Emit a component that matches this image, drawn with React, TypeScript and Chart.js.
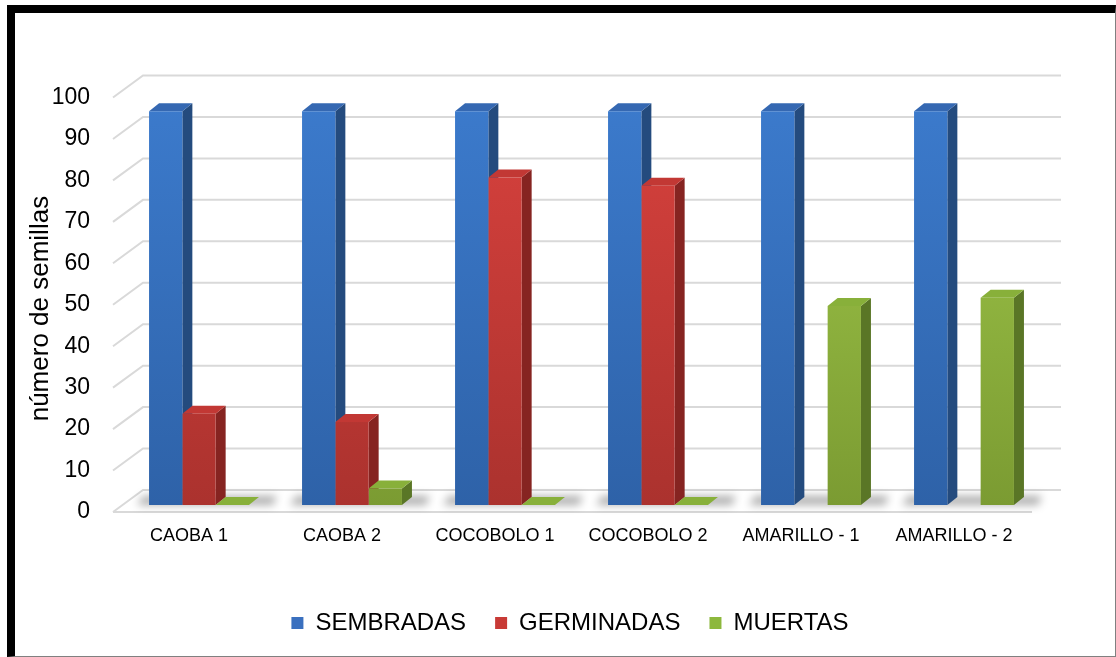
import React, { useEffect, useRef } from "react";
import { Chart, registerables } from "chart.js";

Chart.register(...registerables);

const categories = ["CAOBA 1", "CAOBA 2", "COCOBOLO 1", "COCOBOLO 2", "AMARILLO - 1", "AMARILLO - 2"];
const seriesNames = ["SEMBRADAS", "GERMINADAS", "MUERTAS"];
const sembradas: (number | null)[] = [95, 95, 95, 95, 95, 95];
const germinadas: (number | null)[] = [22, 20, 79, 77, null, null];
const muertas: (number | null)[] = [0, 4, 0, 0, 48, 50];
const yAxisTitle = "número de semillas   ";

const palette = [
  { front: ["#3c7bcd", "#2e62a8"], side: "#244b7e", top: "#3568b2", legend: "#3a70bf" },
  { front: ["#d9423e", "#ab322e"], side: "#862421", top: "#c23834", legend: "#c83a36" },
  { front: ["#a2ca4b", "#7b9b32"], side: "#5a7626", top: "#88b03a", legend: "#8db83d" },
];

const DX = 10;
const DY = -8;
const FONT = "'Liberation Sans', Arial, sans-serif";

const depthPlugin = {
  id: "depth3d",
  beforeDatasetsDraw(chart: any) {
    const { ctx, chartArea: a, scales } = chart;
    const ys = scales.y;
    ctx.save();
    // walls / gridlines
    ctx.strokeStyle = "#d9d9d9";
    ctx.lineWidth = 2;
    for (const t of ys.ticks) {
      const py = ys.getPixelForValue(t.value);
      ctx.beginPath();
      ctx.moveTo(a.left - 9.5, py + 7);
      ctx.lineTo(a.left + 20.5, py - 15);
      ctx.lineTo(a.right + 20.5, py - 15);
      ctx.stroke();
      if (t.value === 0) {
        ctx.beginPath();
        ctx.moveTo(a.left - 9.5, py + 7);
        ctx.lineTo(a.right - 8.5, py + 7);
        ctx.stroke();
      }
    }
    // floor shadows
    const m0 = chart.getDatasetMeta(0);
    const mL = chart.getDatasetMeta(chart.data.datasets.length - 1);
    m0.data.forEach((el: any, i: number) => {
      const p0 = el.getProps(["x", "base", "width"], true);
      const pL = mL.data[i].getProps(["x", "width"], true);
      const l = p0.x - p0.width / 2;
      const r = pL.x + pL.width / 2;
      ctx.save();
      ctx.filter = "blur(4px)";
      ctx.fillStyle = "rgba(0,0,0,0.32)";
      ctx.beginPath();
      ctx.moveTo(l - 12, p0.base);
      ctx.lineTo(r + 24, p0.base);
      ctx.lineTo(r + 28, p0.base - 9);
      ctx.lineTo(l - 6, p0.base - 9);
      ctx.closePath();
      ctx.fill();
      ctx.restore();
    });
    // side and top faces
    chart.data.datasets.forEach((ds: any, di: number) => {
      const meta = chart.getDatasetMeta(di);
      meta.data.forEach((el: any, i: number) => {
        const v = ds.data[i];
        if (v == null) return;
        const { x, y, base, width } = el.getProps(["x", "y", "base", "width"], true);
        const l = x - width / 2;
        const r = x + width / 2;
        ctx.fillStyle = palette[di].side;
        ctx.beginPath();
        ctx.moveTo(r, y);
        ctx.lineTo(r + DX, y + DY);
        ctx.lineTo(r + DX, base + DY);
        ctx.lineTo(r, base);
        ctx.closePath();
        ctx.fill();
        ctx.fillStyle = palette[di].top;
        ctx.beginPath();
        ctx.moveTo(l, y);
        ctx.lineTo(l + DX, y + DY);
        ctx.lineTo(r + DX, y + DY);
        ctx.lineTo(r, y);
        ctx.closePath();
        ctx.fill();
      });
    });
    ctx.restore();
  },
};

function frontColor(di: number) {
  return (c: any) => {
    const area = c.chart.chartArea;
    if (!area) return palette[di].front[0];
    const g = c.chart.ctx.createLinearGradient(0, area.top, 0, area.bottom);
    g.addColorStop(0, palette[di].front[0]);
    g.addColorStop(1, palette[di].front[1]);
    return g;
  };
}

export default function App() {
  const ref = useRef<HTMLCanvasElement | null>(null);
  useEffect(() => {
    if (!ref.current) return;
    const series = [sembradas, germinadas, muertas];
    const chart = new Chart(ref.current, {
      type: "bar",
      data: {
        labels: categories,
        datasets: series.map((d, i) => ({
          label: seriesNames[i],
          data: d,
          backgroundColor: frontColor(i),
          borderWidth: 0,
          categoryPercentage: 0.653,
          barPercentage: 1,
        })),
      },
      options: {
        responsive: false,
        animation: false,
        events: [],
        layout: { padding: { left: 24, top: 90.5, right: 0, bottom: 12 } },
        plugins: {
          tooltip: { enabled: false },
          legend: {
            position: "bottom",
            labels: {
              boxWidth: 12,
              boxHeight: 12,
              padding: 29,
              color: "#000",
              font: { family: FONT, size: 24 },
              generateLabels: (chart: any) =>
                chart.data.datasets.map((ds: any, i: number) => ({
                  text: ds.label,
                  fillStyle: palette[i].legend,
                  strokeStyle: palette[i].legend,
                  lineWidth: 0,
                  hidden: false,
                  datasetIndex: i,
                  fontColor: "#000",
                })),
            },
          },
        },
        scales: {
          x: {
            grid: { display: false },
            border: { display: false },
            ticks: {
              color: "#000",
              font: { family: FONT, size: 18 },
              padding: 12,
              labelOffset: -10,
              maxRotation: 0,
              autoSkip: false,
            },
            afterFit: (s: any) => {
              s.height = 77;
            },
          },
          y: {
            min: 0,
            max: 100,
            grid: { display: false },
            border: { display: false },
            ticks: {
              stepSize: 10,
              color: "#000",
              font: { family: FONT, size: 23 },
              padding: 24.5,
              labelOffset: 7,
            },
            title: {
              display: true,
              text: yAxisTitle,
              color: "#000",
              font: { family: FONT, size: 26, lineHeight: 1.2 },
              padding: { top: 1, bottom: 0 },
            },
            afterFit: (s: any) => {
              s.width = 98.5;
            },
          },
          yR: {
            position: "right",
            display: true,
            min: 0,
            max: 100,
            grid: { display: false },
            border: { display: false },
            ticks: { display: false },
            afterFit: (s: any) => {
              s.width = 75.5;
            },
          },
        },
      },
      plugins: [depthPlugin],
    } as any);
    return () => chart.destroy();
  }, []);

  return (
    <div style={{ position: "fixed", left: 0, top: 0, width: 1116, height: 657, background: "#fff" }}>
      <div
        style={{
          position: "absolute",
          left: 7,
          top: 5,
          width: 1109,
          height: 652,
          boxSizing: "border-box",
          borderTop: "8px solid #000",
          borderLeft: "8px solid #000",
          borderRight: "1px solid #808080",
          borderBottom: "1px solid #808080",
        }}
      />
      <canvas ref={ref} width={1116} height={657} style={{ position: "absolute", left: 0, top: 0 }} />
    </div>
  );
}
